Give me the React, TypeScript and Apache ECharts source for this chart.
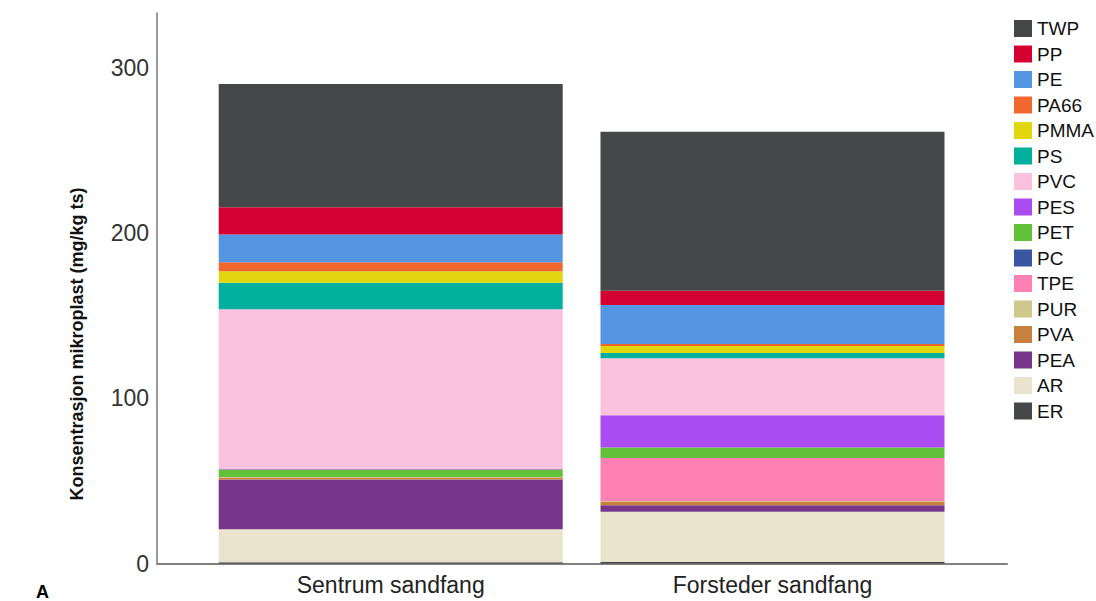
import React, { useEffect, useRef } from "react";
import * as echarts from "echarts";

const categories = ["Sentrum sandfang", "Forsteder sandfang"];

// stack order, bottom to top
const seriesNames = ["ER", "AR", "PEA", "PVA", "PUR", "TPE", "PC", "PET", "PES", "PVC", "PS", "PMMA", "PA66", "PE", "PP", "TWP"];
const seriesColors = ["#464749", "#EAE3CE", "#77368B", "#C8803F", "#CFC88C", "#FF80B2", "#3B55A0", "#61C239", "#AB4CF2", "#FDC1E0", "#00B09D", "#E2D70F", "#F0682D", "#5596E3", "#D50032", "#464749"];

const sentrumValues = [0.8, 20.0, 30.1, 1.2, 0.3, 0, 0, 4.5, 0.3, 96.7, 16.0, 7.0, 5.5, 16.7, 16.5, 74.6];
const forstederValues = [1.1, 30.2, 4.0, 2.2, 0.3, 26.1, 0, 6.3, 19.5, 34.5, 3.2, 4.2, 1.2, 23.7, 8.6, 96.2];

const legendOrder = ["TWP", "PP", "PE", "PA66", "PMMA", "PS", "PVC", "PES", "PET", "PC", "TPE", "PUR", "PVA", "PEA", "AR", "ER"];
const yTicks = { min: 0, max: 333, interval: 100 };
const yTitle = "Konsentrasjon mikroplast (mg/kg ts)";

const FONT = "'Liberation Sans', Arial, sans-serif";

export default function App() {
  const ref = useRef<HTMLDivElement>(null);
  useEffect(() => {
    const chart = echarts.init(ref.current!, null, { renderer: "svg" });
    const series = seriesNames.map((name, i) => ({
      name,
      type: "bar",
      stack: "total",
      xAxisIndex: 0,
      yAxisIndex: 0,
      barWidth: 344,
      itemStyle: { color: seriesColors[i] },
      data: [sentrumValues[i], forstederValues[i]],
    }));
    chart.setOption({
      animation: false,
      backgroundColor: "#ffffff",
      grid: [
        { left: 199.8, right: 132.6, top: 13.3, bottom: 37.5 },
        { left: 157, right: 89, top: 13.3, bottom: 37.5 },
      ],
      xAxis: [
        {
          type: "category",
          gridIndex: 0,
          data: categories,
          axisLine: { show: false },
          axisTick: { show: false },
          axisLabel: { fontFamily: FONT, fontSize: 23, color: "#222", margin: 10 },
        },
        {
          type: "value",
          gridIndex: 1,
          min: 0,
          max: 1,
          axisLine: { show: true, lineStyle: { color: "#808080", width: 2 } },
          axisTick: { show: false },
          axisLabel: { show: false },
          splitLine: { show: false },
        },
      ],
      yAxis: [
        {
          type: "value",
          gridIndex: 0,
          min: yTicks.min,
          max: yTicks.max,
          interval: yTicks.interval,
          show: false,
          splitLine: { show: false },
        },
        {
          type: "value",
          gridIndex: 1,
          min: yTicks.min,
          max: yTicks.max,
          interval: yTicks.interval,
          axisLine: { show: true, lineStyle: { color: "#9a9a9a", width: 2 } },
          axisTick: { show: false },
          splitLine: { show: false },
          axisLabel: { fontFamily: FONT, fontSize: 23, color: "#333", margin: 8, showMaxLabel: false },
        },
      ],
      legend: {
        orient: "vertical",
        left: 1009,
        top: 14,
        data: legendOrder,
        icon: "rect",
        itemWidth: 18,
        itemHeight: 17,
        itemGap: 6.5,
        textStyle: { fontFamily: FONT, fontSize: 19, color: "#111", lineHeight: 17 },
        selectedMode: false,
      },
      graphic: [
        {
          type: "text",
          x: 77,
          y: 344,
          rotation: Math.PI / 2,
          style: {
            text: yTitle,
            fontFamily: FONT,
            fontSize: 18,
            fontWeight: "bold",
            fill: "#111",
            textAlign: "center",
            textVerticalAlign: "middle",
          },
        },
        {
          type: "text",
          x: 36,
          y: 583,
          style: { text: "A", fontFamily: FONT, fontSize: 18, fontWeight: "bold", fill: "#000" },
        },
      ],
      series,
    });
    return () => chart.dispose();
  }, []);
  return <div ref={ref} style={{ position: "fixed", left: 0, top: 0, width: 1096, height: 601 }} />;
}
